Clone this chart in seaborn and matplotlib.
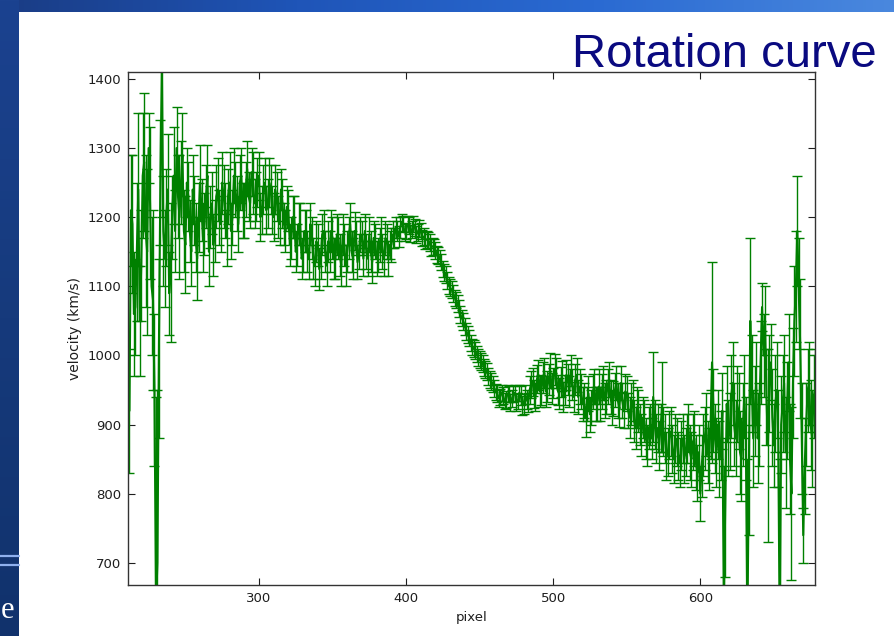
import numpy as np
import matplotlib
matplotlib.use("Agg")
import matplotlib.pyplot as plt
from matplotlib.colors import LinearSegmentedColormap
import seaborn as sns

# Pixel grid along the slit and the measured line-of-sight velocities (km/s),
# one row of values per 20 pixels
pixel = np.arange(212, 679)

velocity = [
    920, 1210, 1190, 1060, 1070, 1150, 1240, 1050, 1130, 1260, 1280, 1180, 1150, 1300, 1220, 1100, 1080, 950, 640, 700,
    1010, 1250, 1420, 1180, 1140, 1200, 1240, 1090, 1120, 1200, 1260, 1180, 1300, 1230, 1200, 1250, 1290, 1180, 1160, 1250,
    1230, 1180, 1150, 1240, 1210, 1170, 1140, 1200, 1250, 1210, 1170, 1190, 1230, 1260, 1150, 1200, 1220, 1160, 1180, 1230,
    1240, 1200, 1190, 1250, 1230, 1210, 1170, 1230, 1250, 1180, 1200, 1260, 1240, 1220, 1190, 1250, 1260, 1210, 1210, 1240,
    1270, 1230, 1220, 1265, 1250, 1220, 1230, 1250, 1260, 1200, 1210, 1240, 1250, 1210, 1220, 1250, 1240, 1210, 1200, 1240,
    1230, 1200, 1190, 1240, 1220, 1190, 1180, 1215, 1210, 1160, 1170, 1200, 1200, 1150, 1160, 1190, 1190, 1140, 1150, 1180,
    1180, 1150, 1140, 1190, 1170, 1140, 1130, 1165, 1160, 1125, 1140, 1175, 1180, 1150, 1130, 1165, 1150, 1180, 1170, 1140,
    1140, 1175, 1170, 1145, 1130, 1175, 1160, 1130, 1150, 1170, 1190, 1150, 1140, 1180, 1170, 1135, 1150, 1175, 1170, 1140,
    1180, 1150, 1140, 1175, 1150, 1135, 1170, 1165, 1140, 1145, 1160, 1175, 1150, 1140, 1170, 1165, 1140, 1160, 1160, 1175,
    1170, 1185, 1180, 1172, 1185, 1192, 1190, 1178, 1180, 1190, 1188, 1176, 1182, 1190, 1185, 1175, 1178, 1184, 1180, 1170,
    1172, 1166, 1168, 1167, 1163, 1156, 1158, 1157, 1152, 1146, 1145, 1141, 1135, 1125, 1120, 1117, 1108, 1101, 1098, 1095,
    1090, 1083, 1080, 1075, 1068, 1059, 1054, 1049, 1042, 1035, 1030, 1025, 1018, 1012, 1010, 1007, 1002, 997, 994, 991,
    988, 983, 980, 977, 970, 965, 962, 959, 952, 947, 945, 938, 940, 946, 942, 934, 936, 945, 944, 932,
    938, 944, 946, 932, 934, 946, 942, 928, 930, 944, 936, 932, 950, 958, 962, 944, 940, 966, 972, 948,
    950, 968, 975, 948, 955, 965, 978, 952, 960, 980, 975, 950, 945, 962, 970, 940, 950, 972, 965, 948,
    978, 958, 940, 965, 972, 940, 955, 948, 930, 935, 910, 930, 945, 915, 925, 948, 955, 930, 930, 955,
    930, 948, 960, 935, 940, 955, 965, 940, 925, 938, 950, 960, 935, 922, 960, 935, 920, 948, 945, 920,
    910, 930, 935, 905, 895, 925, 920, 900, 885, 910, 905, 880, 870, 895, 900, 880, 940, 900, 880, 895,
    870, 895, 925, 890, 880, 855, 860, 885, 890, 865, 850, 880, 875, 855, 845, 870, 880, 850, 860, 880,
    895, 860, 850, 875, 880, 845, 830, 860, 800, 840, 870, 880, 900, 860, 850, 900, 990, 920, 880, 860,
    900, 850, 870, 920, 640, 780, 930, 880, 890, 940, 960, 900, 880, 930, 920, 860, 850, 900, 940, 880,
    600, 820, 1050, 960, 880, 920, 960, 880, 900, 990, 1070, 1000, 1050, 940, 870, 960, 990, 910, 870, 930,
    950, 880, 600, 900, 930, 960, 860, 920, 990, 850, 800, 960, 1050, 1100, 1180, 1090, 1010, 880, 740, 840,
    900, 950, 960, 900, 880, 940, 950,
]

velocity_err = [
    90, 80, 100, 90, 70, 100, 110, 80, 80, 90, 100, 110, 120, 50, 110, 100, 130, 110, 300, 250,
    130, 90, 220, 80, 70, 70, 80, 60, 100, 60, 70, 60, 60, 60, 90, 60, 60, 60, 70, 50,
    50, 45, 50, 50, 50, 50, 60, 50, 55, 45, 50, 45, 45, 45, 50, 45, 45, 45, 45, 45,
    45, 40, 40, 45, 45, 40, 40, 40, 45, 40, 40, 40, 40, 40, 40, 40, 40, 40, 40, 40,
    40, 35, 35, 35, 45, 35, 35, 35, 35, 35, 35, 35, 35, 35, 35, 35, 35, 35, 35, 35,
    35, 30, 30, 30, 35, 30, 30, 30, 30, 30, 30, 30, 30, 30, 30, 30, 30, 30, 30, 30,
    30, 30, 30, 30, 30, 30, 30, 30, 30, 30, 30, 30, 30, 30, 30, 30, 30, 30, 30, 30,
    30, 30, 30, 30, 30, 30, 30, 30, 30, 30, 30, 30, 30, 28, 25, 25, 25, 25, 25, 25,
    25, 25, 25, 25, 30, 30, 25, 25, 25, 25, 25, 25, 25, 25, 25, 25, 25, 20, 25, 20,
    15, 15, 15, 15, 15, 12, 12, 12, 12, 12, 12, 12, 12, 12, 12, 12, 12, 12, 12, 12,
    12, 12, 12, 12, 12, 12, 12, 12, 12, 12, 12, 12, 12, 12, 12, 12, 12, 12, 12, 12,
    12, 12, 12, 12, 12, 12, 12, 12, 12, 12, 12, 12, 12, 12, 12, 12, 12, 12, 12, 12,
    12, 12, 12, 12, 12, 12, 12, 12, 12, 12, 12, 12, 12, 12, 12, 12, 12, 12, 12, 12,
    12, 12, 12, 12, 12, 12, 14, 14, 14, 14, 14, 14, 20, 20, 20, 20, 20, 20, 22, 22,
    22, 22, 22, 22, 22, 22, 25, 22, 22, 22, 22, 22, 22, 22, 22, 22, 22, 22, 22, 22,
    22, 22, 22, 22, 25, 25, 25, 25, 25, 25, 28, 25, 25, 25, 25, 25, 25, 25, 25, 25,
    25, 25, 25, 25, 25, 25, 25, 25, 25, 25, 25, 25, 25, 25, 25, 25, 25, 25, 25, 25,
    30, 30, 30, 30, 30, 30, 30, 30, 30, 30, 30, 30, 30, 30, 30, 30, 65, 35, 35, 35,
    35, 35, 65, 35, 35, 35, 35, 35, 35, 35, 35, 35, 35, 35, 35, 35, 35, 35, 35, 35,
    35, 40, 40, 40, 40, 40, 40, 40, 40, 45, 45, 45, 45, 45, 45, 50, 145, 60, 50, 50,
    50, 55, 50, 55, 200, 100, 55, 55, 55, 60, 60, 60, 55, 55, 55, 60, 60, 60, 60, 60,
    250, 80, 120, 70, 70, 65, 60, 65, 60, 60, 35, 60, 50, 70, 140, 70, 55, 70, 60, 70,
    70, 70, 250, 70, 70, 70, 80, 70, 70, 80, 125, 80, 80, 80, 80, 80, 100, 80, 40, 70,
    60, 60, 60, 65, 70, 60, 60,
]

x_ticks = [300, 400, 500, 600]
y_ticks = [700, 800, 900, 1000, 1100, 1200, 1300, 1400]

GREEN = "#008000"
TEXT = "#1e1e1e"

sns.set_style("white")
plt.rcParams["font.family"] = ["DejaVu Sans"]
plt.rcParams["xtick.direction"] = "in"
plt.rcParams["ytick.direction"] = "in"

fig = plt.figure(figsize=(8.94, 6.36), dpi=100)
fig.patch.set_facecolor("white")

# Slide decoration: gradient banner on top, dark stripe on the left
banner = fig.add_axes([0, 1 - 12 / 636, 1, 12 / 636])
banner_cmap = LinearSegmentedColormap.from_list(
    "banner", ["#1a3c84", "#1f55b8", "#2a6ad2", "#4a88de"])
banner.imshow(np.linspace(0, 1, 256).reshape(1, -1), aspect="auto", cmap=banner_cmap)
banner.axis("off")

stripe = fig.add_axes([0, 0, 19 / 894, 1])
stripe_cmap = LinearSegmentedColormap.from_list(
    "stripe", ["#1b4290", "#163a7c", "#11326c"])
stripe.imshow(np.linspace(0, 1, 256).reshape(-1, 1), aspect="auto", cmap=stripe_cmap)
stripe.axis("off")
for yy in (556, 565):
    fig.add_artist(plt.Line2D([0, 19 / 894], [1 - yy / 636, 1 - yy / 636],
                              color="#8fb0ee", lw=1.6, transform=fig.transFigure))
fig.text(1 / 894, 1 - 618 / 636, "e", color="white", fontsize=22,
         family="Liberation Serif", ha="left", va="baseline")

fig.text(877 / 894, 1 - 67 / 636, "Rotation curve", color="#0a0a80",
         fontsize=34, family="Liberation Sans", ha="right", va="baseline")

ax = fig.add_axes([128 / 894, 1 - 585 / 636, 687 / 894, 513 / 636])
ax.set_facecolor("white")

sns.lineplot(x=pixel, y=velocity, ax=ax, color=GREEN, lw=1.5,
             errorbar=None, sort=False)
ax.errorbar(pixel, velocity, yerr=velocity_err, fmt="none", ecolor=GREEN,
            elinewidth=1.0, capsize=3.5, capthick=1.0)

ax.set_xlim(211, 678)
ax.set_ylim(668, 1410)
ax.set_xticks(x_ticks)
ax.set_yticks(y_ticks)
ax.tick_params(axis="both", which="major", direction="in", length=5,
               width=0.8, labelsize=9.5, colors=TEXT, pad=5,
               top=True, right=True, bottom=True, left=True)
for sp in ax.spines.values():
    sp.set_visible(True)
    sp.set_color("#333333")
    sp.set_linewidth(1.0)

ax.set_xlabel("pixel", fontsize=9.5, color=TEXT, labelpad=4)
ax.set_ylabel("velocity (km/s)", fontsize=10, color=TEXT, labelpad=4)

fig.savefig("out.png", dpi=100)
